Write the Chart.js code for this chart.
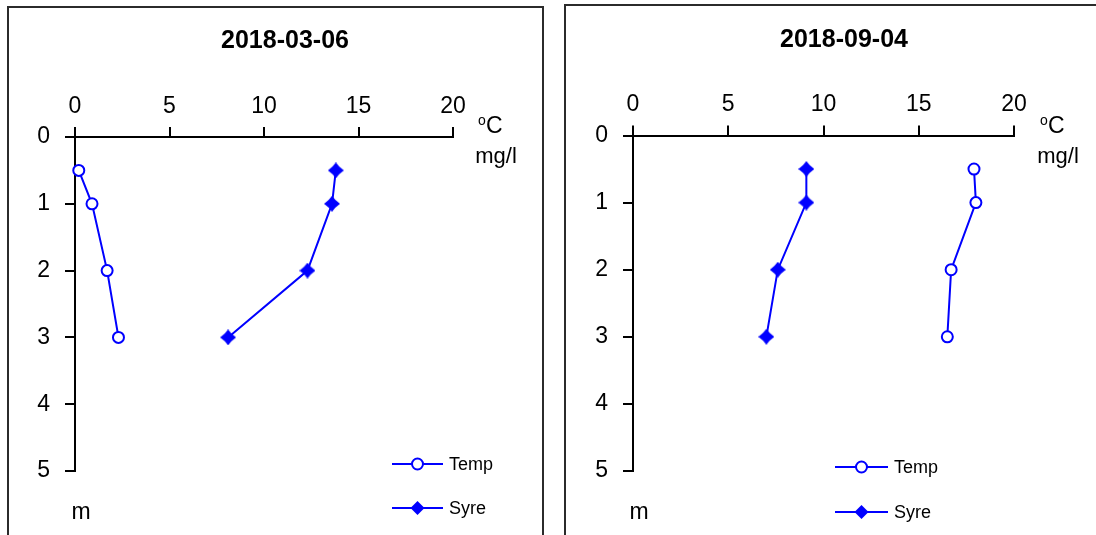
<!DOCTYPE html>
<html>
<head>
<meta charset="utf-8">
<script src="https://cdn.jsdelivr.net/npm/chart.js@4"></script>
<style>
  html, body { margin: 0; padding: 0; background: #fff; width: 1096px; height: 535px; overflow: hidden; }
  .panel { position: absolute; border: 2px solid #2b2b2b; box-sizing: border-box; }
  canvas { position: absolute; top: 0; }
</style>
</head>
<body>
<div class="panel" style="left:7px; top:6px; width:537px; height:560px;"></div>
<div class="panel" style="left:564px; top:4px; width:560px; height:560px;"></div>
<canvas id="c1" width="548" height="535" style="left:0px"></canvas>
<canvas id="c2" width="548" height="535" style="left:548px"></canvas>
<script>
// ---- data ----
const depths = [0.5, 1, 2, 3];
const tempMar = [0.2, 0.9, 1.7, 2.3];
const syreMar = [13.8, 13.6, 12.3, 8.1];
const tempSep = [17.9, 18.0, 16.7, 16.5];
const syreSep = [9.1, 9.1, 7.6, 7.0];
const xTicks = [0, 5, 10, 15, 20];
const yTicks = [0, 1, 2, 3, 4, 5];
const titles = ['2018-03-06', '2018-09-04'];
const seriesNames = ['Temp', 'Syre'];
const unitTop = 'C';
const unitBottom = 'mg/l';
const depthUnit = 'm';

const FONT = '"Liberation Sans", Arial, sans-serif';
const BLUE = '#0000ff';

// concave 4-point star marker
function starMarker(size) {
  const c = document.createElement('canvas');
  c.width = size; c.height = size;
  const g = c.getContext('2d');
  const h = size / 2, k = size * 0.2;
  g.fillStyle = BLUE;
  g.beginPath();
  g.moveTo(h, 0);
  g.quadraticCurveTo(h + k, h - k, size, h);
  g.quadraticCurveTo(h + k, h + k, h, size);
  g.quadraticCurveTo(h - k, h + k, 0, h);
  g.quadraticCurveTo(h - k, h - k, h, 0);
  g.fill();
  return c;
}
const star = starMarker(16);

function makeData(arr) { return arr.map((v, i) => ({ x: v, y: depths[i] })); }

const overlay = {
  id: 'overlay',
  afterDraw(chart, args, o) {
    const ctx = chart.ctx;
    ctx.save();
    ctx.fillStyle = '#000';
    ctx.textAlign = 'center';
    ctx.textBaseline = 'middle';
    ctx.font = 'bold 25px ' + FONT;
    ctx.fillText(o.title, o.titleX, o.titleY);
    // units
    ctx.textAlign = 'left';
    ctx.font = '14px ' + FONT;
    ctx.fillText('o', o.unitX - 14, o.unitY1 - 6);
    ctx.font = '23px ' + FONT;
    ctx.fillText(unitTop, o.unitX - 6, o.unitY1);
    ctx.textAlign = 'center';
    ctx.font = '22px ' + FONT;
    ctx.fillText(unitBottom, o.unitX + 4, o.unitY2);
    ctx.font = '23px ' + FONT;
    ctx.fillText(depthUnit, o.mX, o.mY);
    // legend
    ctx.font = '18px ' + FONT;
    ctx.textAlign = 'left';
    chart.data.datasets.forEach((ds, i) => {
      const y = o.legY[i];
      ctx.strokeStyle = BLUE;
      ctx.lineWidth = 2;
      ctx.beginPath();
      ctx.moveTo(o.legX1, y);
      ctx.lineTo(o.legX2, y);
      ctx.stroke();
      const cx = (o.legX1 + o.legX2) / 2;
      if (ds.label === 'Temp') {
        ctx.fillStyle = '#fff';
        ctx.beginPath();
        ctx.arc(cx, y, 5.5, 0, Math.PI * 2);
        ctx.fill();
        ctx.stroke();
      } else {
        ctx.fillStyle = BLUE;
        ctx.beginPath();
        ctx.moveTo(cx, y - 7);
        ctx.lineTo(cx + 7, y);
        ctx.lineTo(cx, y + 7);
        ctx.lineTo(cx - 7, y);
        ctx.closePath();
        ctx.fill();
      }
      ctx.fillStyle = '#000';
      ctx.fillText(ds.label, o.legX2 + 6, y + 1);
    });
    ctx.restore();
  }
};

function build(id, temp, syre, pad, ov) {
  return new Chart(document.getElementById(id), {
    type: 'line',
    data: {
      datasets: [
        { label: seriesNames[0], data: makeData(temp), borderColor: BLUE, borderWidth: 2,
          pointStyle: 'circle', pointRadius: 5.5, pointBorderWidth: 2, pointBackgroundColor: '#fff',
          pointBorderColor: BLUE, clip: false, tension: 0 },
        { label: seriesNames[1], data: makeData(syre), borderColor: BLUE, borderWidth: 2,
          pointStyle: star, pointRadius: 8, backgroundColor: BLUE, clip: false, tension: 0 }
      ]
    },
    options: {
      responsive: false,
      animation: false,
      devicePixelRatio: 1,
      layout: { padding: pad },
      plugins: { legend: { display: false }, tooltip: { enabled: false }, title: { display: false }, overlay: ov },
      scales: {
        x: {
          type: 'linear', position: 'top', min: 0, max: 20,
          afterBuildTicks: s => { s.ticks = xTicks.map(v => ({ value: v })); },
          afterFit: s => { s.height = 60; },
          ticks: { font: { size: 23, family: FONT }, color: '#000', padding: 7, maxRotation: 0 },
          grid: { drawOnChartArea: false, drawTicks: true, tickLength: 10, tickColor: '#000', tickWidth: 2, lineWidth: 2, color: '#000' },
          border: { display: true, color: '#000', width: 2 }
        },
        y: {
          type: 'linear', position: 'left', min: 0, max: 5, reverse: true,
          afterBuildTicks: s => { s.ticks = yTicks.map(v => ({ value: v })); },
          afterFit: s => { s.width = 60; },
          ticks: { font: { size: 23, family: FONT }, color: '#000', padding: 15 },
          grid: { drawOnChartArea: false, drawTicks: true, tickLength: 10, tickColor: '#000', tickWidth: 2, lineWidth: 2, color: '#000' },
          border: { display: true, color: '#000', width: 2 }
        }
      }
    },
    plugins: [overlay]
  });
}

build('c1', tempMar, syreMar, { left: 15, right: 95, top: 77, bottom: 64 }, {
  title: titles[0], titleX: 285, titleY: 41,
  unitX: 492, unitY1: 127, unitY2: 157, mX: 81, mY: 513,
  legX1: 392, legX2: 443, legY: [464, 508]
});
build('c2', tempSep, syreSep, { left: 25, right: 82, top: 75.5, bottom: 64 }, {
  title: titles[1], titleX: 844 - 548, titleY: 40,
  unitX: 1054 - 548, unitY1: 127, unitY2: 157, mX: 639 - 548, mY: 513,
  legX1: 835 - 548, legX2: 888 - 548, legY: [467, 512]
});
</script>
</body>
</html>
